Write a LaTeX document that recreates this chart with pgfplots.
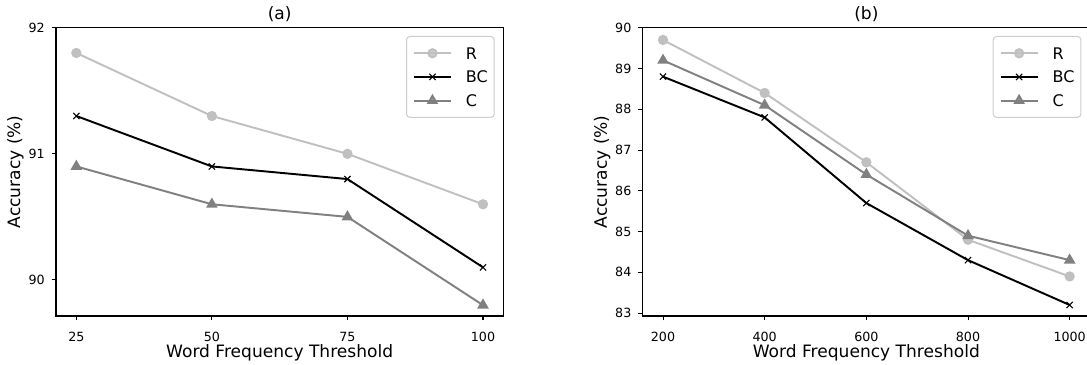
\documentclass[border=0pt]{standalone}
\usepackage{pgfplots}
\pgfplotsset{compat=1.18}
\usepackage{fontspec}
\setmainfont{DejaVu Sans}
\definecolor{cR}{HTML}{C0C0C0}
\definecolor{cC}{HTML}{808080}
\definecolor{legframe}{HTML}{CCCCCC}
\pgfplotsset{
  myaxis/.style={
    scale only axis,
    width=335.5pt,
    height=216.2pt,
    axis line style={line width=0.76pt},
    tick style={line width=0.76pt, black},
    tick align=outside,
    xtick pos=bottom, ytick pos=left,
    major tick length=3.3pt,
    /pgf/number format/assume math mode=true,
    /pgf/number format/1000 sep={},
    ticklabel style={font=\fontsize{9.5}{11}\selectfont},
    xticklabel style={inner sep=0pt, yshift=-8.5pt},
    yticklabel style={inner sep=0pt, xshift=-5pt},
    label style={font=\fontsize{12.8}{15}\selectfont},
    xlabel style={at={(axis description cs:0.5,0)}, anchor=north, inner sep=0pt, yshift=-21.3pt},
    ylabel style={at={(axis description cs:-0.0715,0.5)}, anchor=south, inner sep=0pt},
    title style={font=\fontsize{12.8}{15}\selectfont, at={(axis description cs:0.5,1)}, anchor=south, inner sep=0pt, yshift=-2pt},
    xlabel={Word Frequency Threshold},
    ylabel={Accuracy (\%)},
    legend style={
      at={(axis description cs:1,1)}, anchor=north east,
      xshift=-6.5pt, yshift=-6.2pt,
      draw=legframe, line width=0.75pt, rounded corners=2.5pt, fill=white, fill opacity=0.8, text opacity=1,
      font=\fontsize{12}{14}\selectfont,
      inner xsep=4.8pt, inner ysep=8.2pt,
      nodes={inner sep=0pt, text height=8.75pt, text depth=0pt},
      row sep=9pt, column sep=10.5pt,
      cells={anchor=west},
    },
    legend image code/.code={\draw[mark repeat=2,mark phase=2,##1] plot coordinates {(0pt,0pt) (13.9pt,0pt) (27.75pt,0pt)};},
    every axis plot/.append style={line width=1.45pt},
  },
  Rstyle/.style={color=cR, mark=*, mark size=3.1pt, mark options={solid}},
  BCstyle/.style={color=black, mark=x, mark size=3.3pt, mark options={solid, line width=0.8pt}},
  Cstyle/.style={color=cC, mark=triangle*, mark size=3.6pt, mark options={solid}},
}
\begin{document}
\begin{tikzpicture}
\path[use as bounding box] (0,0) rectangle (815.25pt,273pt);
\begin{axis}[myaxis,
  at={(42pt,36pt)}, anchor=south west,
  title={(a)},
  xmin=21.25, xmax=103.75, ymin=89.714, ymax=92,
  xtick={25,50,75,100}, ytick={90,91,92},
]
\addplot[Rstyle] coordinates {(25,91.8) (50,91.3) (75,91.0) (100,90.6)};
\addlegendentry{R}
\addplot[BCstyle] coordinates {(25,91.3) (50,90.9) (75,90.8) (100,90.1)};
\addlegendentry{BC}
\addplot[Cstyle] coordinates {(25,90.9) (50,90.6) (75,90.5) (100,89.8)};
\addlegendentry{C}
\end{axis}
\begin{axis}[myaxis,
  at={(482pt,36pt)}, anchor=south west,
  title={(b)},
  xmin=160, xmax=1040, ymin=82.93, ymax=90.0,
  xtick={200,400,600,800,1000}, ytick={83,84,85,86,87,88,89,90},
]
\addplot[Rstyle] coordinates {(200,89.7) (400,88.4) (600,86.7) (800,84.8) (1000,83.9)};
\addlegendentry{R}
\addplot[BCstyle] coordinates {(200,88.8) (400,87.8) (600,85.7) (800,84.3) (1000,83.2)};
\addlegendentry{BC}
\addplot[Cstyle] coordinates {(200,89.2) (400,88.1) (600,86.4) (800,84.9) (1000,84.3)};
\addlegendentry{C}
\end{axis}
\end{tikzpicture}
\end{document}
